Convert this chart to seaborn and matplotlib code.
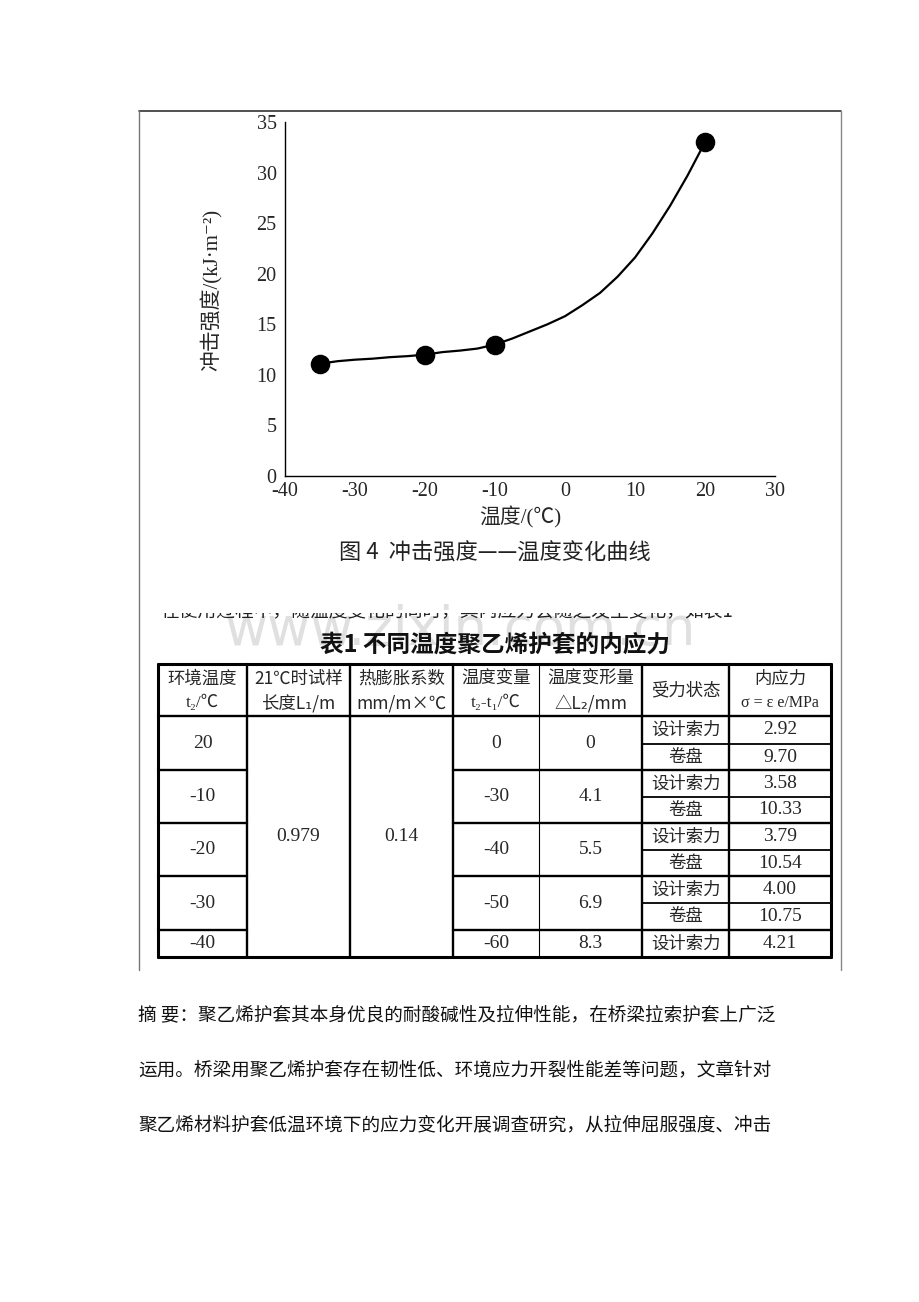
import matplotlib
matplotlib.use("Agg")
import matplotlib.pyplot as plt
import seaborn as sns
import pandas as pd
from matplotlib.transforms import Bbox, TransformedBbox

# 图4 数据：冲击强度 - 温度
test_temp = [-35, -20, -10, 20]
test_strength = [11.1, 12.0, 13.0, 33.0]
# 拟合曲线
curve_temp = [-35, -32.5, -30, -27.5, -25, -22.5, -20, -17.5, -15, -12.5, -10, -7.5,
              -5, -2.5, 0, 2.5, 5, 7.5, 10, 12.5, 15, 17.5, 20]
curve_strength = [11.1, 11.35, 11.5, 11.6, 11.75, 11.85, 12.0, 12.25, 12.4, 12.6, 13.0, 13.6,
                  14.3, 15.0, 15.8, 16.9, 18.1, 19.7, 21.6, 24.0, 26.7, 29.7, 33.0]
x_ticks = [-40, -30, -20, -10, 0, 10, 20, 30]
y_ticks = [0, 5, 10, 15, 20, 25, 30, 35]

# 表1 数据
header_top = ['环境温度', '21℃时试样', '热膨胀系数', '温度变量', '温度变形量', '受力状态', '内应力']
header_bot = ['t₂/℃', '长度L₁/m', 'mm/m×℃', 't₂-t₁/℃', '△L₂/mm', '', 'σ = ε e/MPa']
env_temp = ['20', '-10', '-20', '-30', '-40']
temp_change = ['0', '-30', '-40', '-50', '-60']
deform = ['0', '4.1', '5.5', '6.9', '8.3']
sample_len = '0.979'
expansion = '0.14'
stress_design = ['2.92', '3.58', '3.79', '4.00', '4.21']
stress_coil = ['9.70', '10.33', '10.54', '10.75']

body_lines = [
    '摘 要：聚乙烯护套其本身优良的耐酸碱性及拉伸性能，在桥梁拉索护套上广泛',
    '运用。桥梁用聚乙烯护套存在韧性低、环境应力开裂性能差等问题，文章针对',
    '聚乙烯材料护套低温环境下的应力变化开展调查研究，从拉伸屈服强度、冲击',
]
cut_line = '在使用过程中，随温度变化的同时，其内应力会随之发生变化，如表1'

sns.set_theme(style="white")
plt.rcParams['font.family'] = ['Noto Sans CJK SC', 'DejaVu Sans']
plt.rcParams['axes.unicode_minus'] = False

W, H = 920, 1302
fig = plt.figure(figsize=(W / 100, H / 100), dpi=100)
fig.patch.set_facecolor('white')

# 整页坐标（像素）
page = fig.add_axes([0, 0, 1, 1])
page.set_xlim(0, W)
page.set_ylim(H, 0)
page.axis('off')

serif = ['Liberation Serif', 'Noto Sans CJK SC', 'DejaVu Serif']

# 外框
page.plot([139, 841], [111, 111], color='#333333', lw=1.2)
page.plot([139, 139], [111, 970], color='#777777', lw=1.0)
page.plot([841, 841], [111, 970], color='#888888', lw=1.0)

# 图表
ax = fig.add_axes([285 / W, 1 - 476 / H, (775 - 285) / W, (476 - 122) / H])
ax.patch.set_alpha(0)
df_curve = pd.DataFrame({'温度': curve_temp, '冲击强度': curve_strength})
df_test = pd.DataFrame({'温度': test_temp, '冲击强度': test_strength})
sns.lineplot(data=df_curve, x='温度', y='冲击强度', color='black', lw=1.6, ax=ax)
sns.scatterplot(data=df_test, x='温度', y='冲击强度', color='black', s=170,
                edgecolor='black', zorder=5, ax=ax, clip_on=False)
ax.set_xlim(-40, 30)
ax.set_ylim(0, 35)
ax.set_xticks(x_ticks)
ax.set_yticks(y_ticks)
ax.set_xticklabels([str(v) for v in x_ticks], family=serif, fontsize=14.5)
ax.set_yticklabels([str(v) for v in y_ticks], family=serif, fontsize=14.5)
ax.tick_params(axis='x', direction='in', length=5, width=1, color='black', pad=4)
ax.tick_params(axis='y', direction='in', length=5, width=1, color='black', pad=6)
for s in ['top', 'right']:
    ax.spines[s].set_visible(False)
for s in ['left', 'bottom']:
    ax.spines[s].set_color('black')
    ax.spines[s].set_linewidth(1.0)
ax.set_xlabel('温度/(℃)', family=serif, fontsize=15)
ax.set_ylabel('冲击强度/(kJ·m⁻²)', family=serif, fontsize=15)
ax.xaxis.set_label_coords(0.48, -0.085)
ax.yaxis.set_label_coords(-0.128, 0.525)
ax.grid(False)

page.text(495, 553, '图 4  冲击强度——温度变化曲线', ha='center', va='center',
          fontsize=16, color='#222222')

# 水印
page.text(460, 630, 'www.zixin.com.cn', ha='center', va='center', fontsize=38,
          color='#e0e0e0', family=['Liberation Sans Narrow', 'DejaVu Sans'], zorder=0)

# 被截断的一行（只露出下半部分）
t = page.text(160, 611, cut_line, ha='left', va='center', fontsize=13.5, color='#222222')
t.set_clip_box(TransformedBbox(Bbox([[0, 613], [W, 626]]), page.transData))
t.set_clip_on(True)

page.text(495, 645, '表1 不同温度聚乙烯护套的内应力', ha='center', va='center',
          fontsize=17, fontweight='bold', color='#111111')

# 表格
cols = [158, 247, 350, 453, 539, 642, 729, 831]
t_top, t_head, t_bot = 664, 716, 957
sub_rows = [716, 744, 770, 797, 823, 850, 876, 903, 930, 957]
thick, thin = 1.7, 0.8
for i, cx in enumerate(cols):
    lw = thin if i == 4 else thick
    if i in (0, 7):
        lw = 2.2
    page.plot([cx, cx], [t_top, t_bot], color='black', lw=lw)
page.plot([cols[0], cols[-1]], [t_top, t_top], color='black', lw=2.2)
page.plot([cols[0], cols[-1]], [t_head, t_head], color='black', lw=thick)
page.plot([cols[0], cols[-1]], [t_bot, t_bot], color='black', lw=2.2)
for k, yy in enumerate(sub_rows[1:-1]):
    if k % 2 == 1:
        page.plot([cols[0], cols[1]], [yy, yy], color='black', lw=thick)
        page.plot([cols[3], cols[-1]], [yy, yy], color='black', lw=thick)
    else:
        page.plot([cols[5], cols[-1]], [yy, yy], color='black', lw=1.3)

fs = 12.5
fn = 14
for i in range(7):
    cx = (cols[i] + cols[i + 1]) / 2
    if header_bot[i]:
        page.text(cx, 679, header_top[i], ha='center', va='center', fontsize=fs)
        page.text(cx, 703, header_bot[i], ha='center', va='center',
                  fontsize=11.5 if i == 6 else fs, family=serif if i in (0, 3, 6) else None)
    else:
        page.text(cx, 690, header_top[i], ha='center', va='center', fontsize=fs)

for g in range(5):
    y0 = sub_rows[2 * g]
    y1 = sub_rows[min(2 * g + 2, len(sub_rows) - 1)]
    yc = (y0 + y1) / 2
    page.text((cols[0] + cols[1]) / 2, yc, env_temp[g], ha='center', va='center', fontsize=fn, family=serif)
    page.text((cols[3] + cols[4]) / 2, yc, temp_change[g], ha='center', va='center', fontsize=fn, family=serif)
    page.text((cols[4] + cols[5]) / 2, yc, deform[g], ha='center', va='center', fontsize=fn, family=serif)
    yd = (sub_rows[2 * g] + sub_rows[2 * g + 1]) / 2
    page.text((cols[5] + cols[6]) / 2, yd, '设计索力', ha='center', va='center', fontsize=fs)
    page.text((cols[6] + cols[7]) / 2, yd, stress_design[g], ha='center', va='center', fontsize=fn, family=serif)
    if g < len(stress_coil):
        yk = (sub_rows[2 * g + 1] + sub_rows[2 * g + 2]) / 2
        page.text((cols[5] + cols[6]) / 2, yk, '卷盘', ha='center', va='center', fontsize=fs)
        page.text((cols[6] + cols[7]) / 2, yk, stress_coil[g], ha='center', va='center', fontsize=fn, family=serif)

ym = (t_head + t_bot) / 2
page.text((cols[1] + cols[2]) / 2, ym, sample_len, ha='center', va='center', fontsize=fn, family=serif)
page.text((cols[2] + cols[3]) / 2, ym, expansion, ha='center', va='center', fontsize=fn, family=serif)

# 摘要文字
for k, line in enumerate(body_lines):
    page.text(138, 1015 + 55 * k, line, ha='left', va='center', fontsize=13.4, color='#111111')

fig.savefig('out.png', dpi=100, facecolor='white')
